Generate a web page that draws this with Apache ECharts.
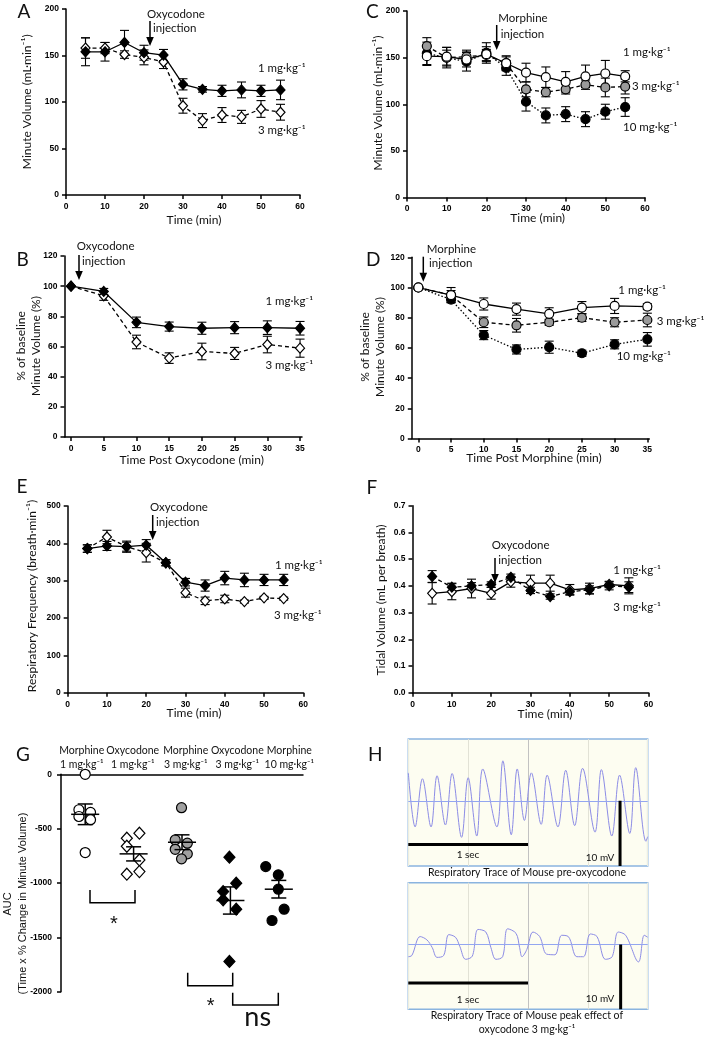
<!DOCTYPE html>
<html><head><meta charset="utf-8">
<script src="https://cdn.jsdelivr.net/npm/echarts@6/dist/echarts.min.js"></script>
<style>html,body{margin:0;padding:0;background:#fff}#c{width:709px;height:1037px}</style>
</head><body><div id="c"></div>
<script>
// ---------------- DATA ----------------
const tMin = [5,10,15,20,25,30,35,40,45,50,55];
const tPost = [0,5,10,15,20,25,30,35];

// A: oxycodone minute volume
const A_1mg = [154,154,164,153,150.5,119,113.6,112,113,112,113];
const A_1mg_err = [15,10,13,8,6,6,3,6,8.5,6,10.5];
const A_3mg = [158,158,151,148,143,96,80,86,84,92.5,89];
const A_3mg_err = [11,6,4,8,7,8,7.5,8,7,9,8.5];

// B: % baseline, oxycodone
const B_1mg = [100,96.5,76,73.2,72.1,72.5,72.5,72.1];
const B_1mg_err = [0,2,3.5,3,4,4,4.5,4.5];
const B_3mg = [100,93.6,63,52.3,56.7,55.4,61.3,58.9];
const B_3mg_err = [0,3,4.5,3.5,5.5,4,5.5,6];

// C: morphine minute volume
const C_1mg = [151.6,151,148,153.7,144,134,129,124,130,133,130];
const C_1mg_err = [10,10,8,8,8,10,11,11,12,14,6];
const C_3mg = [162.4,150,151,152.8,143.8,116,113,116,121,118,119];
const C_3mg_err = [9,8,7,6,7,8,5,5,5,10,8];
const C_10mg = [154.6,150,145.6,155,139,102.7,88,89.4,84,92,97];
const C_10mg_err = [12,11,10,11,8,10,8,8,8,8,10];

// D: % baseline, morphine
const D_1mg = [100,95,89.1,85.7,82.6,86.7,87.8,87.4];
const D_1mg_err = [0,5,4,4,4,4,5,2];
const D_3mg = [100,95,77,75,77,80,77,78.5];
const D_3mg_err = [0,3,3.5,4.5,2,2.5,3,4.5];
const D_10mg = [100,92,68.5,59,60.5,56.5,62.4,65.7];
const D_10mg_err = [0,2,3,3,4,2,3,4.5];

// E: respiratory frequency
const E_1mg = [386,393,391,395,348,296,287,307,302,302,302];
const E_1mg_err = [10,12,12,15,8,10,15,18,18,15,15];
const E_3mg = [386,417,391,375,348,268,246,251,244,254,252];
const E_3mg_err = [10,18,15,25,8,12,10,10,4,4,4];

// F: tidal volume
const F_1mg = [0.435,0.395,0.40,0.405,0.432,0.383,0.36,0.378,0.385,0.40,0.395];
const F_1mg_err = [0.022,0.015,0.012,0.01,0.012,0.012,0.01,0.01,0.015,0.015,0.02];
const F_3mg = [0.372,0.378,0.39,0.372,0.415,0.41,0.41,0.385,0.39,0.405,0.40];
const F_3mg_err = [0.04,0.03,0.035,0.022,0.02,0.03,0.03,0.02,0.02,0.012,0.03];

// G: AUC per animal (x = position within group column)
const gGroups = ['Morphine\n1 mg·kg⁻¹','Oxycodone\n1 mg·kg⁻¹','Morphine\n3 mg·kg⁻¹','Oxycodone\n3 mg·kg⁻¹','Morphine\n10 mg·kg⁻¹'];
const gM1_x = [0.5,0.37,0.61,0.37,0.61,0.5];
const gM1_y = [0,-326,-350,-388,-418,-720];
const gO1_x = [1.36,1.62,1.36,1.62,1.36,1.62];
const gO1_y = [-588,-542,-662,-788,-919,-895];
const gM3_x = [2.49,2.36,2.61,2.36,2.61,2.49];
const gM3_y = [-307,-604,-634,-690,-732,-778];
const gO3_x = [3.48,3.62,3.35,3.35,3.62,3.48];
const gO3_y = [-763,-1002,-1079,-1155,-1241,-1722];
const gM10_x = [4.23,4.49,4.49,4.61,4.36];
const gM10_y = [-849,-925,-1057,-1241,-1345];
const gCenters = [0.5,1.5,2.5,3.5,4.5];
const gMeans = [-368,-732,-625,-1161,-1057];
const gSems = [95,65,68,125,81];

// H: respiratory traces [seconds, mV]
const trace1 = [[0,4.3],[0.057,-4.0],[0.118,3.4],[0.19,-4.0],[0.24,3.85],[0.31,-3.7],[0.366,4.2],[0.445,-5.6],[0.5,3.55],[0.572,-5.4],[0.622,4.9],[0.74,-4.0],[0.79,6.15],[0.86,-5.2],[0.91,4.9],[0.97,-3.0],[1.028,4.3],[1.11,-3.6],[1.16,3.95],[1.25,-4.0],[1.315,4.7],[1.39,-3.8],[1.456,5.0],[1.56,-4.8],[1.613,4.8],[1.70,-5.4],[1.765,3.95],[1.85,-5.0],[1.9,5.1],[1.985,-6.2],[2.0,-5.5]];
const trace2 = [[0,-1.9],[0.03,-1.7],[0.099,1.2],[0.155,0.7],[0.2,-0.5],[0.24,-2.0],[0.296,-1.7],[0.338,1.5],[0.394,1.1],[0.43,-0.3],[0.479,-2.3],[0.535,-1.8],[0.583,2.3],[0.648,1.9],[0.69,-0.5],[0.732,-2.3],[0.788,-1.9],[0.83,2.4],[0.9,1.7],[0.93,-0.5],[0.95,-1.9],[0.99,-0.8],[1.042,1.9],[1.098,1.2],[1.155,-1.5],[1.225,-1.6],[1.281,1.4],[1.337,1.2],[1.408,-1.9],[1.464,-1.9],[1.52,1.6],[1.577,1.2],[1.647,-2.3],[1.703,-1.9],[1.754,1.9],[1.816,1.4],[1.923,-2.7],[1.971,1.4],[2.0,1.1]];
const scale1H = [[0,-6.7],[1.0,-6.7]];
const scale1V = [[1.769,0],[1.769,-10]];
const scale2H = [[0,-5.95],[1.0,-5.95]];
const scale2V = [[1.774,0],[1.774,-10]];

// ---------------- BUILD ----------------
const FT = '"Liberation Sans", Arial, sans-serif';
const FL = 'Lato, "DejaVu Sans", sans-serif';
const grids = [
  {left:66, top:9, width:234, height:186},          // 0 A
  {left:64.5, top:256, width:237.5, height:181},    // 1 B
  {left:407, top:11, width:238, height:186.5},      // 2 C
  {left:411.8, top:257.3, width:237.5, height:181.3}, // 3 D
  {left:67.7, top:506, width:235.6, height:186.7},  // 4 E
  {left:412.5, top:505.7, width:236, height:187},   // 5 F
  {left:61, top:774.3, width:242, height:217.4},    // 6 G
  {left:408.3, top:739, width:239.4, height:127, show:true, backgroundColor:'#fdfdf1', borderColor:'#8ab4e0', borderWidth:1.5}, // 7 H1
  {left:408.3, top:882.7, width:239.4, height:126.6, show:true, backgroundColor:'#fdfdf1', borderColor:'#8ab4e0', borderWidth:1.5} // 8 H2
];
const AL = {show:true, onZero:false, lineStyle:{color:'#000', width:1.5}};
function plain(v){ return String(v); }
function ax(gi, min, max, interval, o){
  o = o || {};
  const a = {type:'value', gridIndex:gi, min:min, max:max,
    axisLine:AL,
    axisTick:{show:true, length:4, lineStyle:{color:'#000', width:1.5}},
    axisLabel:{color:'#000', fontFamily:FT, fontWeight:'bold', fontSize:8.5, margin:o.margin||7, formatter:o.fmt||plain},
    splitLine:{show:false}};
  if (o.custom){ a.axisTick.customValues = o.custom; a.axisLabel.customValues = o.custom; }
  else a.interval = interval;
  if (o.position) a.position = o.position;
  return a;
}
const postTicks = [0,5,10,15,20,25,30,35];
const hSplit = {show:true, lineStyle:{color:['#eeeedf','#e2e2d6','#c2c2c2','#e2e2d6','#eeeedf'], width:1}};
const xAxes = [
  ax(0,0,60,10), ax(1,-1,35.3,5,{custom:postTicks}), ax(2,0,60,10), ax(3,-1,35.3,5,{custom:postTicks}),
  ax(4,0,60,10), ax(5,0,60,10),
  {type:'value', gridIndex:6, min:0, max:5, position:'top', axisLine:AL, axisTick:{show:false}, axisLabel:{show:false}, splitLine:{show:false}},
  {type:'value', gridIndex:7, min:0, max:2, interval:0.5, axisLine:{show:false}, axisTick:{show:false}, axisLabel:{show:false}, splitLine:hSplit},
  {type:'value', gridIndex:8, min:0, max:2, interval:0.5, axisLine:{show:false}, axisTick:{show:false}, axisLabel:{show:false}, splitLine:hSplit}
];
const yAxes = [
  ax(0,0,200,50), ax(1,0,120,20), ax(2,0,200,50), ax(3,0,120,20),
  ax(4,0,500,100), ax(5,0,0.7,0.1,{fmt:function(v){return v.toFixed(1);}}),
  ax(6,-2000,0,500,{margin:9}),
  {type:'value', gridIndex:7, min:-10, max:9.5, show:false, splitLine:{show:false}},
  {type:'value', gridIndex:8, min:-10, max:9.5, show:false, splitLine:{show:false}}
];

const series = [];
function errS(gi, xs, ys, es, hw){
  series.push({type:'custom', xAxisIndex:gi, yAxisIndex:gi, z:1, silent:true,
    data: xs.map(function(x,i){return [x, ys[i], es[i]];}),
    encode:{x:0, y:1},
    renderItem:function(p, api){
      const x=api.value(0), y=api.value(1), e=api.value(2);
      if(!e) return null;
      const a=api.coord([x,y+e]), b=api.coord([x,y-e]);
      const st={stroke:'#000', lineWidth:1.1};
      return {type:'group', children:[
        {type:'line', shape:{x1:a[0],y1:a[1],x2:b[0],y2:b[1]}, style:st},
        {type:'line', shape:{x1:a[0]-hw,y1:a[1],x2:a[0]+hw,y2:a[1]}, style:st},
        {type:'line', shape:{x1:b[0]-hw,y1:b[1],x2:b[0]+hw,y2:b[1]}, style:st}]};
    }});
}
function lineS(gi, xs, ys, sym, fill, dash, size, z){
  series.push({type:'line', xAxisIndex:gi, yAxisIndex:gi, z:z||3,
    data: xs.map(function(x,i){return [x, ys[i]];}),
    symbol:sym, symbolSize:size, showSymbol:true, showAllSymbol:true,
    itemStyle:{color:fill, borderColor:'#000', borderWidth:1.2, opacity:1},
    lineStyle:{color:'#000', width:1.3, type:dash},
    emphasis:{disabled:true}, silent:true});
}
const DIA = [9,10], CIR = 9;
const DASH = [4,3], DOT = [1.5,2];
// A
errS(0,tMin,A_1mg,A_1mg_err,4.5); errS(0,tMin,A_3mg,A_3mg_err,4.5);
lineS(0,tMin,A_3mg,'diamond','#fff',DASH,DIA,3); lineS(0,tMin,A_1mg,'diamond','#000','solid',DIA,4);
// B
errS(1,tPost,B_1mg,B_1mg_err,4.5); errS(1,tPost,B_3mg,B_3mg_err,4.5);
lineS(1,tPost,B_3mg,'diamond','#fff',DASH,DIA,3); lineS(1,tPost,B_1mg,'diamond','#000','solid',DIA,4);
// C
errS(2,tMin,C_1mg,C_1mg_err,4.5); errS(2,tMin,C_3mg,C_3mg_err,4.5); errS(2,tMin,C_10mg,C_10mg_err,4.5);
lineS(2,tMin,C_10mg,'circle','#000',DOT,CIR,3); lineS(2,tMin,C_3mg,'circle','#9a9a9a',DASH,CIR,4); lineS(2,tMin,C_1mg,'circle','#fff','solid',CIR,5);
// D
errS(3,tPost,D_1mg,D_1mg_err,4.5); errS(3,tPost,D_3mg,D_3mg_err,4.5); errS(3,tPost,D_10mg,D_10mg_err,4.5);
lineS(3,tPost,D_10mg,'circle','#000',DOT,CIR,3); lineS(3,tPost,D_3mg,'circle','#9a9a9a',DASH,CIR,4); lineS(3,tPost,D_1mg,'circle','#fff','solid',CIR,5);
// E
errS(4,tMin,E_1mg,E_1mg_err,4.5); errS(4,tMin,E_3mg,E_3mg_err,4.5);
lineS(4,tMin,E_3mg,'diamond','#fff',DASH,DIA,3); lineS(4,tMin,E_1mg,'diamond','#000','solid',DIA,4);
// F
errS(5,tMin,F_1mg,F_1mg_err,4.5); errS(5,tMin,F_3mg,F_3mg_err,4.5);
lineS(5,tMin,F_3mg,'diamond','#fff','solid',DIA,3); lineS(5,tMin,F_1mg,'diamond','#000',DASH,DIA,4);
// G scatter
function scat(xs, ys, sym, fill, size){
  series.push({type:'scatter', xAxisIndex:6, yAxisIndex:6, z:3, symbol:sym, symbolSize:size, clip:false,
    data: xs.map(function(x,i){return [x, ys[i]];}),
    itemStyle:{color:fill, borderColor:'#000', borderWidth:1.2, opacity:1}, silent:true});
}
scat(gM1_x,gM1_y,'circle','#fff',10);
scat(gO1_x,gO1_y,'diamond','#fff',[11,12]);
scat(gM3_x,gM3_y,'circle','#a0a0a0',10);
scat(gO3_x,gO3_y,'diamond','#000',[11,12]);
scat(gM10_x,gM10_y,'circle','#000',10);
series.push({type:'custom', xAxisIndex:6, yAxisIndex:6, z:4, silent:true, clip:false,
  data: gCenters.map(function(c,i){return [c, gMeans[i], gSems[i]];}),
  encode:{x:0,y:1},
  renderItem:function(p, api){
    const c=api.value(0), m=api.value(1), s=api.value(2);
    const l=api.coord([c-0.29,m]), r=api.coord([c+0.29,m]);
    const t=api.coord([c,m+s]), b=api.coord([c,m-s]);
    const st={stroke:'#000', lineWidth:1.5}, hw=7.5;
    return {type:'group', children:[
      {type:'line', shape:{x1:l[0],y1:l[1],x2:r[0],y2:r[1]}, style:st},
      {type:'line', shape:{x1:t[0],y1:t[1],x2:b[0],y2:b[1]}, style:st},
      {type:'line', shape:{x1:t[0]-hw,y1:t[1],x2:t[0]+hw,y2:t[1]}, style:st},
      {type:'line', shape:{x1:b[0]-hw,y1:b[1],x2:b[0]+hw,y2:b[1]}, style:st}]};
  }});
// H traces
function traceS(gi, data){
  series.push({type:'line', xAxisIndex:gi, yAxisIndex:gi, z:3, data:data, showSymbol:false, smooth:0.35, clip:true, silent:true,
    lineStyle:{color:'#8c8ce6', width:1},
    markLine:{silent:true, symbol:['none','none'], label:{show:false}, lineStyle:{color:'#93a6f0', width:1.2, type:'solid'}, data:[{yAxis:0}]}});
}
function barS(gi, data){
  series.push({type:'line', xAxisIndex:gi, yAxisIndex:gi, z:5, data:data, showSymbol:false, silent:true, clip:false,
    lineStyle:{color:'#000', width:3, cap:'butt'}});
}
traceS(7, trace1); traceS(8, trace2);
barS(7, scale1H); barS(7, scale1V); barS(8, scale2H); barS(8, scale2V);

// ---------------- GRAPHIC TEXT / ANNOTATIONS ----------------
const g = [];
function txt(x,y,s,o){ g.push({type:'text', x:x, y:y, silent:true, z:10,
  style:Object.assign({text:s, fill:'#111', fontFamily:FL, fontSize:11.5, textAlign:'left', textVerticalAlign:'middle'}, o||{})}); }
function rtxt(x,y,s,o){ g.push({type:'text', x:x, y:y, rotation:Math.PI/2, silent:true, z:10,
  style:Object.assign({text:s, fill:'#111', fontFamily:FL, fontSize:12, textAlign:'center', textVerticalAlign:'middle'}, o||{})}); }
function arrow(x, y1, y2){
  g.push({type:'line', silent:true, z:10, shape:{x1:x,y1:y1,x2:x,y2:y2-7}, style:{stroke:'#000', lineWidth:1.5}});
  g.push({type:'polygon', silent:true, z:10, shape:{points:[[x-3.8,y2-9],[x+3.8,y2-9],[x,y2]]}, style:{fill:'#000'}});
}
const L = {fontSize:19, fill:'#111'};
txt(17.5,11.5,'A',L); txt(16.5,260,'B',L); txt(366,11.5,'C',L); txt(366,260,'D',L);
txt(16.5,486.5,'E',L); txt(366.5,488.3,'F',L); txt(16,755,'G',L); txt(368,755,'H',L);

const MV = 'Minute Volume (mL·min⁻¹)';
rtxt(27,101.7,MV); rtxt(378.3,103,MV);
rtxt(20.7,346,'% of baseline'); rtxt(36,346,'Minute Volume (%)');
rtxt(365.5,347,'% of baseline'); rtxt(380.5,347,'Minute Volume (%)');
rtxt(31.7,596,'Respiratory Frequency (breath·min⁻¹)');
rtxt(381,600,'Tidal Volume (mL per breath)');
rtxt(7.5,904,'AUC',{fontFamily:FT, fontSize:11});
rtxt(23,903.5,'(Time x % Change in Minute Volume)',{fontFamily:FT, fontSize:11});

const C12 = {textAlign:'center', fontSize:12};
txt(194,220,'Time (min)',C12); txt(537.7,218,'Time (min)',C12);
txt(191.7,460,'Time Post Oxycodone (min)',C12); txt(534,458,'Time Post Morphine (min)',C12);
txt(194,713.3,'Time (min)',C12); txt(545,714,'Time (min)',C12);

const K = 'mg·kg⁻¹';
// A
txt(147,14,'Oxycodone'); txt(153,28.7,'injection'); arrow(150,21,46);
txt(258,68.3,'1 '+K); txt(258,130,'3 '+K);
// B
txt(76.7,246.7,'Oxycodone'); txt(82,261.7,'injection'); arrow(79,255,280);
txt(265.5,301.7,'1 '+K); txt(265.5,365.7,'3 '+K);
// C
txt(498.3,18,'Morphine'); txt(500.7,34,'injection'); arrow(496.7,25,50);
txt(623,52,'1 '+K); txt(632,86,'3 '+K); txt(623,127,'10 '+K);
// D
txt(426.7,249,'Morphine'); txt(429,263,'injection'); arrow(423.3,256.7,281.7);
txt(618.3,290,'1 '+K); txt(656.7,321.7,'3 '+K); txt(616.7,356,'10 '+K);
// E
txt(150,507.7,'Oxycodone'); txt(156,522.7,'injection'); arrow(152.7,515,540);
txt(275,565,'1 '+K); txt(274,615,'3 '+K);
// F
txt(491.7,545,'Oxycodone'); txt(498.3,560.7,'injection'); arrow(495,558,583);
txt(613.3,570,'1 '+K); txt(613.3,607.7,'3 '+K);
// G group labels
const gLabX = [81.7,132.7,185.7,237.3,289.3];
gGroups.forEach(function(s,i){ txt(gLabX[i],757.5,s,{textAlign:'center', fontSize:10.5, lineHeight:13.5}); });
// G brackets
function poly(pts){ g.push({type:'polyline', silent:true, z:10, shape:{points:pts}, style:{stroke:'#000', lineWidth:1.5, fill:null}}); }
poly([[90,890],[90,902.7],[135,902.7],[135,890]]);
poly([[187.7,972.7],[187.7,985.7],[232.7,985.7],[232.7,972.7]]);
poly([[232.7,992.7],[232.7,1005],[278.3,1005],[278.3,992.7]]);
txt(114,924,'*',{textAlign:'center', fontFamily:FT, fontSize:20});
txt(210.7,1006.5,'*',{textAlign:'center', fontFamily:FT, fontSize:20});
txt(257.7,1017,'ns',{textAlign:'center', fontSize:27});
// H texts
const H10 = {textAlign:'center', fontSize:10};
txt(468,855,'1 sec',H10); txt(600,857.7,'10 mV',H10);
txt(468,999.3,'1 sec',H10); txt(600,999,'10 mV',H10);
txt(527,873,'Respiratory Trace of Mouse pre-oxycodone',{textAlign:'center', fontSize:10.5});
txt(527,1016,'Respiratory Trace of Mouse peak effect of',{textAlign:'center', fontSize:10.5});
txt(527,1029.5,'oxycodone 3 '+K,{textAlign:'center', fontSize:10.5});

const chart = echarts.init(document.getElementById('c'), null, {renderer:'canvas'});
chart.setOption({
  animation:false,
  backgroundColor:'#fff',
  textStyle:{fontFamily:FL},
  grid:grids, xAxis:xAxes, yAxis:yAxes, series:series, graphic:{elements:g}
});
</script></body></html>
